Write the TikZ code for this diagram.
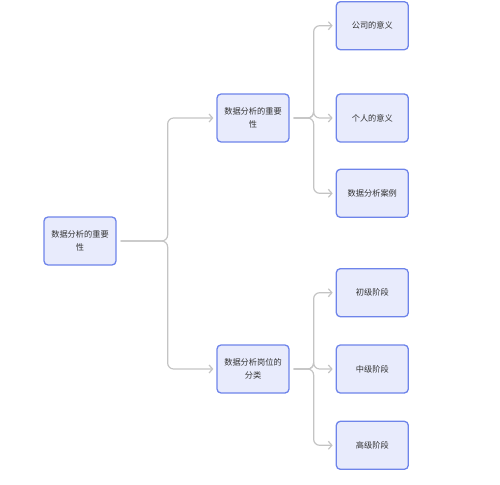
\documentclass[tikz,border=0pt]{standalone}
\usepackage{fontspec}
\usepackage{tikz}
\usetikzlibrary{arrows.meta,positioning}
\newfontfamily\cjk{Noto Sans CJK SC}
\definecolor{boxfill}{HTML}{E8EBFC}
\definecolor{boxline}{HTML}{6E84EA}
\definecolor{linkgray}{HTML}{C4C4C4}
\definecolor{txt}{HTML}{333333}

\begin{document}
\begin{tikzpicture}[x=1pt,y=1pt,node distance=46pt,
                    >={Straight Barb[length=3.5pt,width=8pt]}]
  \tikzstyle{topic}=[draw=boxline,fill=boxfill,line width=1.3pt,rounded corners=4pt,
                     minimum width=72pt,minimum height=48pt,align=center,inner sep=2pt,
                     text=txt,font=\cjk\fontsize{8.2}{13.5}\selectfont]
  \tikzstyle{link}=[->,draw=linkgray,line width=1.2pt,rounded corners=6pt,
                    shorten <=4pt,shorten >=3pt]
  \useasboundingbox (0,0) rectangle (500,-484);

  \node[topic] (root) at (80,-241)  {数据分析的重要\\性};
  \node[topic] (b1)   at (253,-118) {数据分析的重要\\性};
  \node[topic] (b2)   at (253,-369) {数据分析岗位的\\分类};

  \node[topic] (l2) [right=46pt of b1]   {个人的意义};
  \node[topic] (l1) [above=43pt of l2]   {公司的意义};
  \node[topic] (l3) [below=26pt of l2]   {数据分析案例};
  \node[topic] (l5) [right=46pt of b2]   {中级阶段};
  \node[topic] (l4) [above=27pt of l5]   {初级阶段};
  \node[topic] (l6) [below=27pt of l5]   {高级阶段};

  % root -> branches
  \foreach \t in {b1,b2}
    \draw[link] (root.east) -- ++(51,0) |- (\t.west);
  % branches -> leaves
  \foreach \t in {l1,l2,l3}
    \draw[link] (b1.east) -- ++(24,0) |- (\t.west);
  \foreach \t in {l4,l5,l6}
    \draw[link] (b2.east) -- ++(24,0) |- (\t.west);
\end{tikzpicture}
\end{document}
